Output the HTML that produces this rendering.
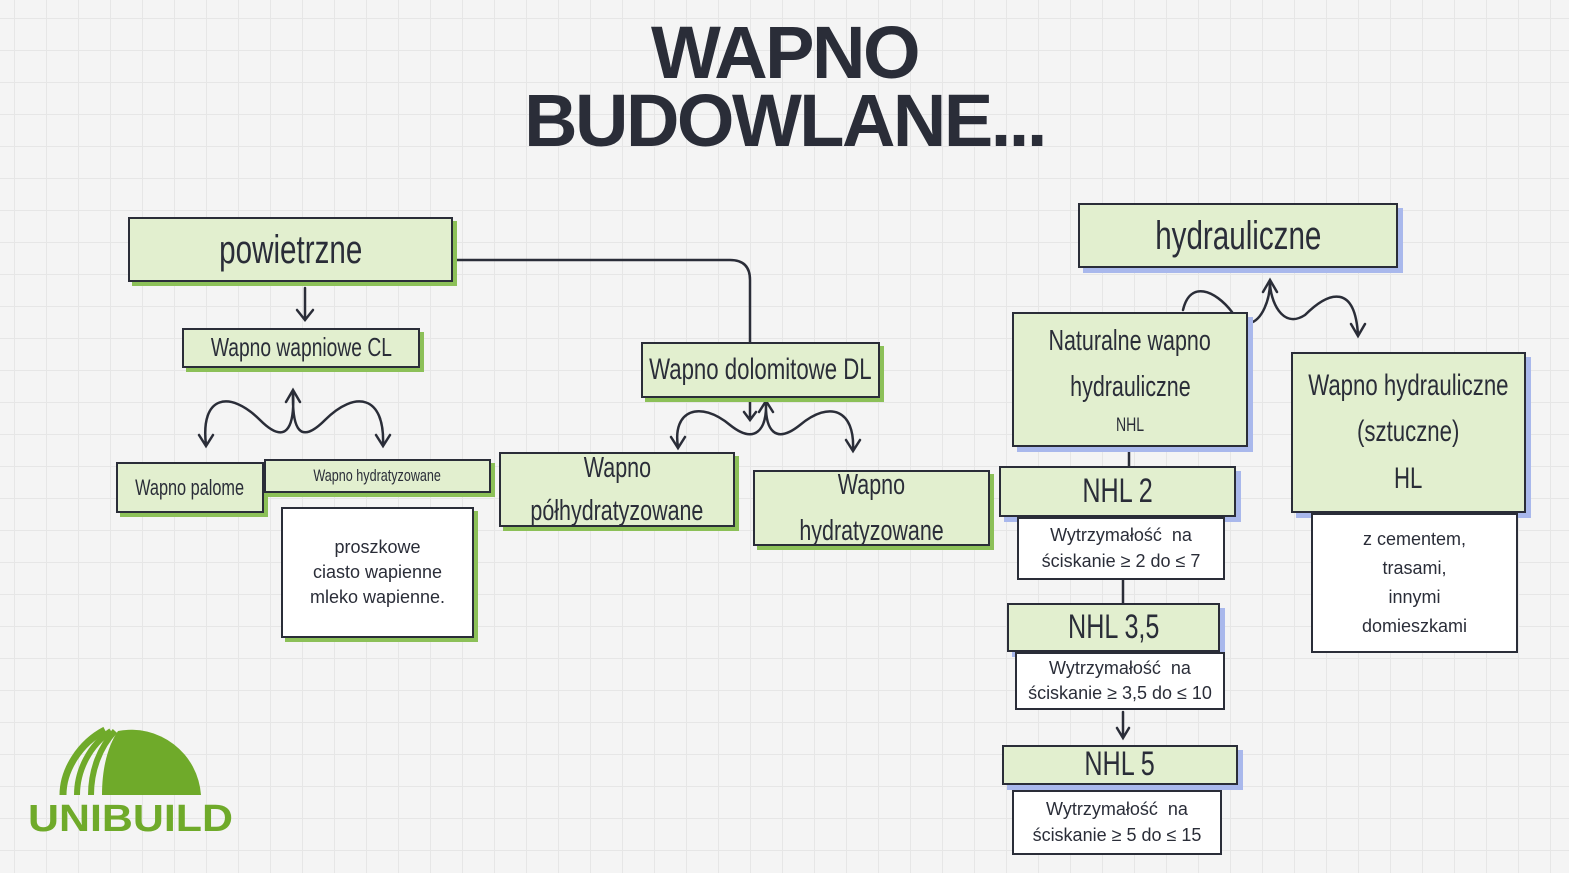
<!DOCTYPE html>
<html><head><meta charset="utf-8"><style>
*{margin:0;padding:0;box-sizing:border-box}
body{width:1569px;height:873px;position:relative;overflow:hidden;background:#f4f4f4;
background-image:linear-gradient(#e6e6e6 1px,transparent 1px),linear-gradient(90deg,#e6e6e6 1px,transparent 1px);background-size:32px 32px;background-position:14px 18px;
font-family:"Liberation Sans",sans-serif;color:#2a2d38}
.b{position:absolute;background:#e2efcf;border:2.5px solid #2a2d38;box-shadow:4px 4px 0 #8cc058;display:flex;flex-direction:column;align-items:center;justify-content:center;text-align:center;line-height:1.45;white-space:nowrap}
.b div,.b>span{display:block;transform:scaleX(.74)}
.bl{box-shadow:5px 5px 0 #a9b8ec}
.w{position:absolute;background:#fff;border:2.5px solid #2a2d38;display:flex;flex-direction:column;align-items:center;justify-content:center;text-align:center;font-size:18px;line-height:1.4;white-space:nowrap}
.t{position:absolute;left:0;width:1569px;text-align:center;font-weight:bold;font-size:74px;letter-spacing:-2.5px;color:#2a2d38}
</style></head><body>
<div class="t" style="top:10px">WAPNO</div>
<div class="t" style="top:78px">BUDOWLANE...</div>

<svg style="position:absolute;left:0;top:0" width="1569" height="873" fill="none" stroke="#2a2d38" stroke-width="2.5" stroke-linecap="round">
<path d="M455 260 H730 Q750 260 750 280 V342"/>
<path d="M305 288 V320 M297 310 L305 320 L313 310"/>
<path d="M206 445 C200 395 230 390 260 420 C285 445 295 430 293 392 C292 430 300 445 325 420 C355 390 385 395 383 445"/>
<path d="M199 435 L206 446 L213 435 M286 402 L293 390 L300 402 M376 435 L383 446 L390 435"/>
<path d="M678 447 C672 410 700 400 730 425 C755 445 767 430 766 402 C765 430 775 445 800 425 C830 400 855 410 853 450"/>
<path d="M671 437 L678 448 L685 437 M759 412 L766 401 L773 412 M846 440 L853 451 L860 440"/>
<path d="M750 398 V420 M744 412 L750 420 L756 412"/>
<path d="M1183 310 C1190 280 1215 290 1232 312 M1250 323 C1262 320 1270 300 1270 282 C1270 300 1282 330 1305 315 C1330 290 1355 285 1358 335"/>
<path d="M1263 292 L1270 280 L1277 292 M1351 324 L1358 336 L1365 324"/>
<path d="M1129 450 V466 M1123 580 V603 M1123 712 V737 M1117 728 L1123 738 L1129 728"/>
</svg>

<div class="b" style="left:128px;top:217px;width:325px;height:65px;font-size:40px"><span>powietrzne</span></div>
<div class="b" style="left:182px;top:328px;width:238px;height:40px;font-size:26px"><span>Wapno wapniowe CL</span></div>
<div class="b" style="left:641px;top:342px;width:239px;height:56px;font-size:30px"><span>Wapno dolomitowe DL</span></div>
<div class="b bl" style="left:1078px;top:203px;width:320px;height:65px;font-size:40px"><span>hydrauliczne</span></div>
<div class="b bl" style="left:1012px;top:312px;width:236px;height:135px;font-size:29px;line-height:1.6"><div>Naturalne wapno</div><div>hydrauliczne</div><div style="font-size:19px">NHL</div></div>
<div class="b bl" style="left:1291px;top:352px;width:235px;height:161px;font-size:30px;line-height:1.55"><div>Wapno hydrauliczne</div><div>(sztuczne)</div><div>HL</div></div>
<div class="w" style="left:1311px;top:513px;width:207px;height:140px;line-height:1.6">z cementem,<br>trasami,<br>innymi<br>domieszkami</div>
<div class="b" style="left:116px;top:462px;width:148px;height:51px;font-size:22px"><span>Wapno palome</span></div>
<div class="b" style="left:264px;top:459px;width:227px;height:34px;font-size:17px"><span>Wapno hydratyzowane</span></div>
<div class="w" style="left:281px;top:507px;width:193px;height:131px;box-shadow:4px 4px 0 #8cc058">proszkowe<br>ciasto wapienne<br>mleko wapienne.</div>
<div class="b" style="left:499px;top:452px;width:236px;height:75px;font-size:29px;line-height:1.45"><div>Wapno</div><div>półhydratyzowane</div></div>
<div class="b" style="left:753px;top:470px;width:237px;height:76px;font-size:29px;line-height:1.6"><div>Wapno</div><div>hydratyzowane</div></div>
<div class="b bl" style="left:999px;top:466px;width:237px;height:51px;font-size:34px"><span>NHL 2</span></div>
<div class="w" style="left:1017px;top:517px;width:208px;height:63px">Wytrzymałość&nbsp; na<br>ściskanie ≥ 2 do ≤ 7</div>
<div class="b bl" style="left:1007px;top:603px;width:213px;height:49px;font-size:34px"><span>NHL 3,5</span></div>
<div class="w" style="left:1015px;top:652px;width:210px;height:58px">Wytrzymałość&nbsp; na<br>ściskanie ≥ 3,5 do ≤ 10</div>
<div class="b bl" style="left:1002px;top:745px;width:236px;height:40px;font-size:34px"><span>NHL 5</span></div>
<div class="w" style="left:1012px;top:790px;width:210px;height:65px">Wytrzymałość&nbsp; na<br>ściskanie ≥ 5 do ≤ 15</div>

<svg style="position:absolute;left:28px;top:725px" width="210" height="110">
<g transform="translate(-28,0)">
<path d="M102 70 C102 45 107 22 118 6 A70 70 0 0 1 201 70 Z" fill="#6faa2a"/>
<path d="M63 70 C63 45 80 18 105 5" stroke="#6faa2a" stroke-width="7" fill="none"/>
<path d="M77 70 C77 45 90 20 111 6" stroke="#6faa2a" stroke-width="6" fill="none"/>
<path d="M91 70 C91 45 100 22 115 6" stroke="#6faa2a" stroke-width="6" fill="none"/>
</g>
<text x="0" y="106" font-family="Liberation Sans,sans-serif" font-weight="bold" font-size="38" fill="#6faa2a" textLength="205" lengthAdjust="spacingAndGlyphs">UNIBUILD</text>
</svg>
</body></html>
